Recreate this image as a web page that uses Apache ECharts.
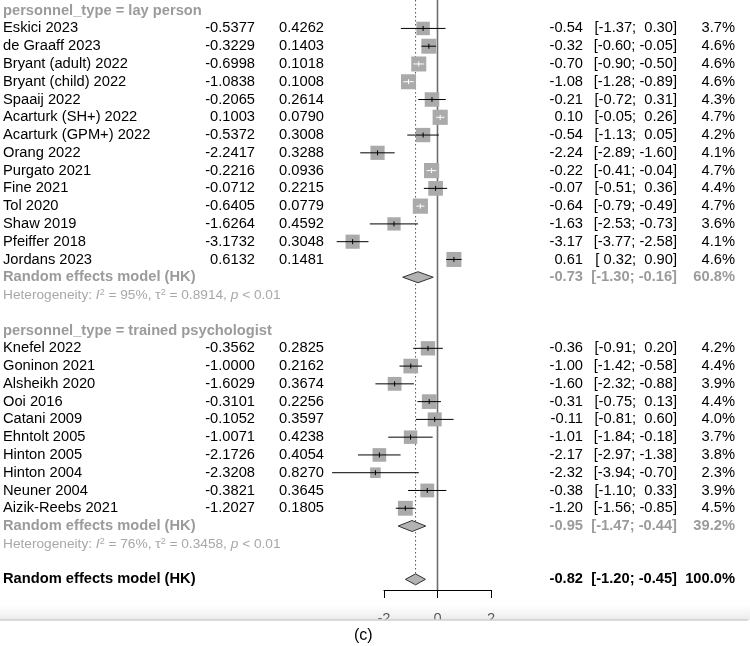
<!DOCTYPE html>
<html>
<head>
<meta charset="utf-8">
<script src="https://cdn.jsdelivr.net/npm/echarts@6/dist/echarts.min.js"></script>
<style>
  html, body { margin: 0; padding: 0; background: #fff; }
  #forest { width: 750px; height: 646px; }
</style>
</head>
<body>
<div id="forest"></div>
<script>
// lay person subgroup
var layStudy = ['Eskici 2023', 'de Graaff 2023', 'Bryant (adult) 2022', 'Bryant (child) 2022', 'Spaaij 2022',
  'Acarturk (SH+) 2022', 'Acarturk (GPM+) 2022', 'Orang 2022', 'Purgato 2021', 'Fine 2021', 'Tol 2020',
  'Shaw 2019', 'Pfeiffer 2018', 'Jordans 2023'];
var layTE = [-0.5377, -0.3229, -0.6998, -1.0838, -0.2065, 0.1003, -0.5372, -2.2417, -0.2216, -0.0712, -0.6405, -1.6264, -3.1732, 0.6132];
var laySE = [0.4262, 0.1403, 0.1018, 0.1008, 0.2614, 0.0790, 0.3008, 0.3288, 0.0936, 0.2215, 0.0779, 0.4592, 0.3048, 0.1481];
var layLo = [-1.37, -0.60, -0.90, -1.28, -0.72, -0.05, -1.13, -2.89, -0.41, -0.51, -0.79, -2.53, -3.77, 0.32];
var layHi = [0.30, -0.05, -0.50, -0.89, 0.31, 0.26, 0.05, -1.60, -0.04, 0.36, -0.49, -0.73, -2.58, 0.90];
var layW = [3.7, 4.6, 4.6, 4.6, 4.3, 4.7, 4.2, 4.1, 4.7, 4.4, 4.7, 3.6, 4.1, 4.6];

// trained psychologist subgroup
var psyStudy = ['Knefel 2022', 'Goninon 2021', 'Alsheikh 2020', 'Ooi 2016', 'Catani 2009', 'Ehntolt 2005',
  'Hinton 2005', 'Hinton 2004', 'Neuner 2004', 'Aizik-Reebs 2021'];
var psyTE = [-0.3562, -1.0000, -1.6029, -0.3101, -0.1052, -1.0071, -2.1726, -2.3208, -0.3821, -1.2027];
var psySE = [0.2825, 0.2162, 0.3674, 0.2256, 0.3597, 0.4238, 0.4054, 0.8270, 0.3645, 0.1805];
var psyLo = [-0.91, -1.42, -2.32, -0.75, -0.81, -1.84, -2.97, -3.94, -1.10, -1.56];
var psyHi = [0.20, -0.58, -0.88, 0.13, 0.60, -0.18, -1.38, -0.70, 0.33, -0.85];
var psyW = [4.2, 4.4, 3.9, 4.4, 4.0, 3.7, 3.8, 2.3, 3.9, 4.5];

// pooled estimates: lay, trained, overall
var poolEst = [-0.73, -0.95, -0.82];
var poolLo = [-1.30, -1.47, -1.20];
var poolHi = [-0.16, -0.44, -0.45];
var poolW = [60.8, 39.2, 100.0];
var hetI2 = [95, 76];
var hetTau2 = ['0.8914', '0.3458'];
var groupNames = ['lay person', 'trained psychologist'];

var xTicks = [-2, 0, 2];

var FONT = '"Liberation Sans", Arial, sans-serif';
var FS = 14.7;
var GREY = '#9b9b9b';

function fmt2(v) { return (v < 0 ? '' : ' ') + v.toFixed(2); }
function ciText(lo, hi) { return '[' + fmt2(lo) + '; ' + fmt2(hi) + ']'; }

// build rows: study marks, diamonds, text lines
var studyData = [];   // [te, row, lo, hi, w]
var diamondData = []; // [est, row, lo, hi]
var textRows = [];    // {row, kind, ...}
var row = 0;
var groups = [
  [layStudy, layTE, laySE, layLo, layHi, layW],
  [psyStudy, psyTE, psySE, psyLo, psyHi, psyW]
];
groups.forEach(function (g, gi) {
  textRows.push({ row: row, kind: 'header', label: 'personnel_type = ' + groupNames[gi] });
  row++;
  for (var i = 0; i < g[0].length; i++) {
    studyData.push([g[1][i], row, g[3][i], g[4][i], g[5][i]]);
    textRows.push({
      row: row, kind: 'study', label: g[0][i], te: g[1][i].toFixed(4), se: g[2][i].toFixed(4),
      est: g[1][i].toFixed(2), ci: ciText(g[3][i], g[4][i]), w: g[5][i].toFixed(1) + '%'
    });
    row++;
  }
  diamondData.push([poolEst[gi], row, poolLo[gi], poolHi[gi]]);
  textRows.push({
    row: row, kind: 'pooled', label: 'Random effects model (HK)',
    est: poolEst[gi].toFixed(2), ci: ciText(poolLo[gi], poolHi[gi]), w: poolW[gi].toFixed(1) + '%'
  });
  row++;
  textRows.push({ row: row, kind: 'het', i2: hetI2[gi], tau2: hetTau2[gi] });
  row += 2;
});
diamondData.push([poolEst[2], row, poolLo[2], poolHi[2]]);
textRows.push({
  row: row, kind: 'overall', label: 'Random effects model (HK)',
  est: poolEst[2].toFixed(2), ci: ciText(poolLo[2], poolHi[2]), w: poolW[2].toFixed(1) + '%'
});
var lastRow = row;

function txt(s, x, y, align, weight, color, size) {
  return {
    type: 'text',
    style: {
      text: s, x: x, y: y, align: align, verticalAlign: 'middle',
      fontFamily: FONT, fontSize: size || FS, fontWeight: weight || 'normal', fill: color || '#000'
    }
  };
}

var myChart = echarts.init(document.getElementById('forest'), null, { renderer: 'canvas' });

var option = {
  animation: false,
  backgroundColor: '#fff',
  grid: { left: 384, right: 259, top: 0, height: 590 },
  xAxis: {
    type: 'value', min: -2, max: 2, interval: 2, position: 'bottom',
    axisLine: { show: true, onZero: false, lineStyle: { color: '#000', width: 1 } },
    axisTick: { show: true, length: 8, lineStyle: { color: '#000', width: 1 } },
    axisLabel: { margin: 21, fontFamily: FONT, fontSize: FS, color: '#000',
      customValues: xTicks },
    splitLine: { show: false }
  },
  yAxis: { type: 'value', inverse: true, min: -0.6, max: 32.6, show: false },
  series: [
    {
      // reference lines: zero and overall estimate
      type: 'custom', clip: false, z: 1,
      data: [[0, poolEst[2]]],
      renderItem: function (params, api) {
        var z0 = api.coord([0, -0.6]);
        var z1 = api.coord([0, 32.6]);
        var d0 = api.coord([poolEst[2], -0.6]);
        var d1 = api.coord([poolEst[2], lastRow]);
        return {
          type: 'group', children: [
            { type: 'line', shape: { x1: z0[0], y1: z0[1], x2: z1[0], y2: z1[1] },
              style: { stroke: '#6e6e6e', lineWidth: 1.6 } },
            { type: 'line', shape: { x1: d0[0], y1: d0[1], x2: d1[0], y2: d1[1] - 6 },
              style: { stroke: '#555', lineWidth: 1, lineDash: [1.5, 2.5] } }
          ]
        };
      }
    },
    {
      // study squares and confidence intervals
      type: 'custom', clip: false, z: 2,
      data: studyData,
      renderItem: function (params, api) {
        var c = api.coord([api.value(0), api.value(1)]);
        var pl = api.coord([api.value(2), api.value(1)])[0];
        var ph = api.coord([api.value(3), api.value(1)])[0];
        var s = 7.0 * Math.sqrt(api.value(4));
        var inside = (c[0] - pl < s / 2 - 1) && (ph - c[0] < s / 2 - 1);
        var col = inside ? '#fff' : '#000';
        return {
          type: 'group', children: [
            { type: 'rect', shape: { x: c[0] - s / 2, y: c[1] - s / 2, width: s, height: s },
              style: { fill: '#aaaaaa' } },
            { type: 'line', shape: { x1: pl, y1: c[1], x2: ph, y2: c[1] }, style: { stroke: col, lineWidth: 1 } },
            { type: 'line', shape: { x1: c[0], y1: c[1] - 2.5, x2: c[0], y2: c[1] + 2.5 }, style: { stroke: col, lineWidth: 1 } }
          ]
        };
      }
    },
    {
      // pooled diamonds
      type: 'custom', clip: false, z: 3,
      data: diamondData,
      renderItem: function (params, api) {
        var c = api.coord([api.value(0), api.value(1)]);
        var pl = api.coord([api.value(2), api.value(1)])[0];
        var ph = api.coord([api.value(3), api.value(1)])[0];
        var h = 5.5;
        return {
          type: 'polygon',
          shape: { points: [[pl, c[1]], [c[0], c[1] - h], [ph, c[1]], [c[0], c[1] + h]] },
          style: { fill: '#b3b3b3', stroke: '#333', lineWidth: 1 }
        };
      }
    },
    {
      // text columns
      type: 'custom', clip: false, z: 4,
      data: textRows.map(function (r, i) { return [0, r.row, i]; }),
      renderItem: function (params, api) {
        var r = textRows[api.value(2)];
        var y = api.coord([0, r.row])[1];
        var ch = [];
        if (r.kind === 'header') {
          ch.push(txt(r.label, 3, y, 'left', 'bold', GREY));
        } else if (r.kind === 'study') {
          ch.push(txt(r.label, 3, y, 'left'));
          ch.push(txt(r.te, 255, y, 'right'));
          ch.push(txt(r.se, 324, y, 'right'));
          ch.push(txt(r.est, 583, y, 'right'));
          ch.push(txt(r.ci, 677, y, 'right'));
          ch.push(txt(r.w, 735, y, 'right'));
        } else if (r.kind === 'pooled' || r.kind === 'overall') {
          var col = r.kind === 'pooled' ? GREY : '#000';
          ch.push(txt(r.label, 3, y, 'left', 'bold', col));
          ch.push(txt(r.est, 583, y, 'right', 'bold', col));
          ch.push(txt(r.ci, 677, y, 'right', 'bold', col));
          ch.push(txt(r.w, 735, y, 'right', 'bold', col));
        } else if (r.kind === 'het') {
          ch.push({
            type: 'text',
            style: {
              x: 3, y: y, align: 'left', verticalAlign: 'middle',
              text: '{n|Heterogeneity: }{i|I}{s|2}{n| = ' + r.i2 + '%, τ}{s|2}{n| = ' + r.tau2 + ', }{i|p}{n| < 0.01}',
              fontFamily: FONT, fontSize: 13.7, fill: '#a8a8a8',
              rich: {
                n: { fontFamily: FONT, fontSize: 13.7, fill: '#a8a8a8' },
                i: { fontFamily: FONT, fontSize: 13.7, fontStyle: 'italic', fill: '#a8a8a8' },
                s: { fontFamily: FONT, fontSize: 9, fill: '#a8a8a8', verticalAlign: 'top' }
              }
            }
          });
        }
        return { type: 'group', children: ch };
      }
    }
  ],
  graphic: [
    { type: 'rect', z: 100, shape: { x: 0, y: 604, width: 750, height: 16 },
      style: { fill: { type: 'linear', x: 0, y: 0, x2: 0, y2: 1,
        colorStops: [{ offset: 0, color: 'rgba(235,235,235,0)' }, { offset: 1, color: 'rgba(215,215,215,0.55)' }] } } },
    { type: 'rect', z: 100, shape: { x: 0, y: 620, width: 750, height: 26 }, style: { fill: '#fff' } },
    { type: 'line', z: 101, shape: { x1: 0, y1: 620, x2: 748, y2: 620 }, style: { stroke: '#cfcfcf', lineWidth: 1.5 } },
    { type: 'text', z: 102, left: 354, top: 628,
      style: { text: '(c)', fontFamily: FONT, fontSize: 16, fill: '#000' } }
  ]
};

myChart.setOption(option, true);
</script>
</body>
</html>
